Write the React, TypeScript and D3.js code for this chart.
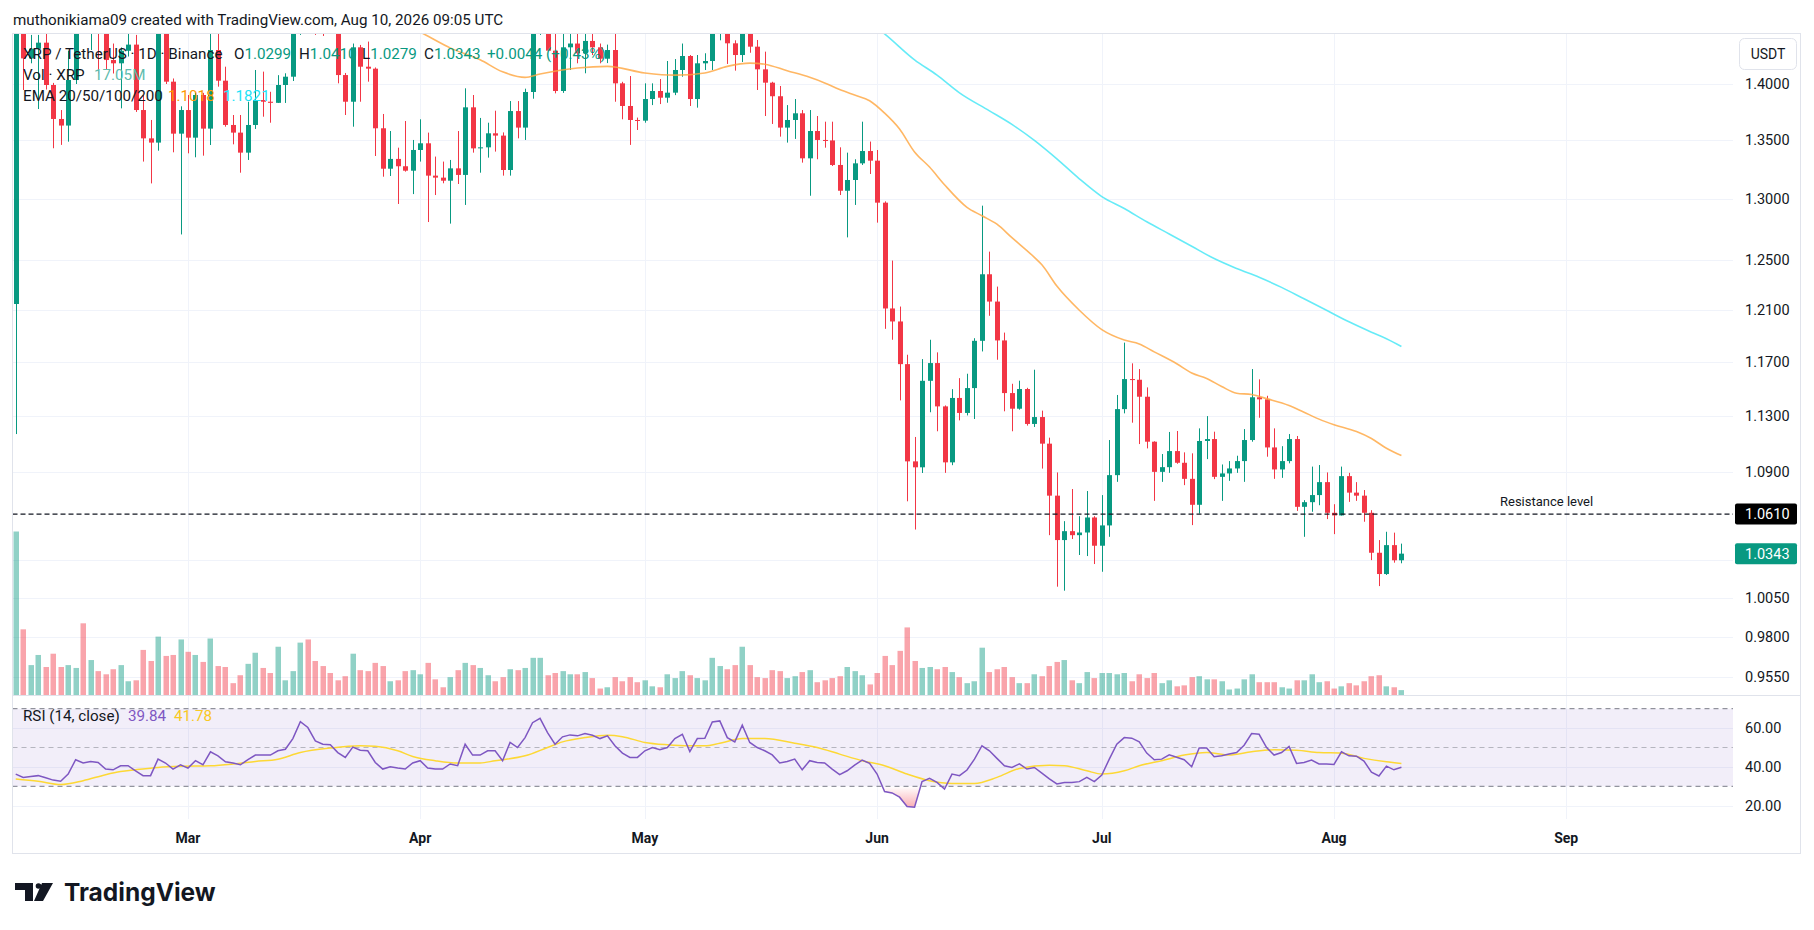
import React, { useEffect, useMemo } from 'react'
import * as d3 from 'd3'

const FIRST_DAY = '2026-02-06'

const open = [
  1.2149,1.4700,1.4233,1.4322,1.4378,1.3991,1.3688,1.3630,1.4036,1.4550,
  1.4500,1.4580,1.4470,1.4218,1.4188,1.4303,1.4360,1.3767,1.3518,1.3481,
  1.4490,1.4021,1.3559,1.3767,1.3524,1.3901,1.3603,1.4310,1.4030,1.3635,
  1.3568,1.3394,1.3635,1.3856,1.3841,1.3831,1.3991,1.4066,1.4490,1.4650,
  1.4620,1.4560,1.4520,1.4500,1.4081,1.3841,1.4335,1.4157,1.4139,1.3606,
  1.3256,1.3340,1.3277,1.3239,1.3417,1.3475,1.3197,1.3180,1.3154,1.3259,
  1.3203,1.3791,1.3431,1.3440,1.3562,1.3542,1.3245,1.3758,1.3612,1.3928,
  1.4480,1.4600,1.4304,1.3937,1.4335,1.4370,1.4280,1.4394,1.4335,1.4230,
  1.4310,1.4006,1.3803,1.3679,1.3673,1.3865,1.3937,1.3877,1.3922,1.4127,
  1.4255,1.3865,1.4188,1.4209,1.4459,1.4600,1.4372,1.4264,1.4460,1.4341,
  1.4133,1.4012,1.3890,1.3612,1.3679,1.3738,1.3345,1.3582,1.3504,1.3500,
  1.3288,1.3069,1.3160,1.3302,1.3408,1.3325,1.2969,1.2114,1.2013,1.1687,
  1.0977,1.0935,1.1562,1.1695,1.1373,1.0970,1.1435,1.1325,1.1508,1.1864,
  1.2384,1.2168,1.1867,1.1471,1.1356,1.1501,1.1245,1.1295,1.1103,1.0737,
  1.0434,1.0494,1.0467,1.0485,1.0587,1.0396,1.0533,1.0880,1.1353,1.1575,
  1.1570,1.1444,1.1117,1.0903,1.0936,1.1050,1.0967,1.0854,1.0674,1.1122,
  1.1136,1.0868,1.0892,1.0927,1.0979,1.1129,1.1440,1.1425,1.1076,1.0920,
  1.0979,1.1136,1.0660,1.0692,1.0741,1.0831,1.0619,1.0601,1.0873,1.0758,
  1.0737,1.0619,1.0349,1.0208,1.0400,1.0299,
]

const high = [
  1.5000,1.4850,1.4450,1.4450,1.4496,1.4010,1.3767,1.4304,1.4700,1.4700,
  1.4700,1.4700,1.4550,1.4370,1.4334,1.4490,1.4450,1.3900,1.3679,1.4600,
  1.4600,1.4050,1.3800,1.3901,1.3920,1.3920,1.4459,1.4496,1.4157,1.3723,
  1.3723,1.3841,1.4127,1.4112,1.3930,1.4080,1.4097,1.4600,1.4750,1.4750,
  1.4700,1.4650,1.4600,1.4600,1.4100,1.4370,1.4357,1.4388,1.4150,1.3732,
  1.3582,1.3437,1.3670,1.3504,1.3685,1.3568,1.3360,1.3317,1.3331,1.3582,
  1.3961,1.3901,1.3697,1.3655,1.3761,1.3570,1.3847,1.3847,1.3958,1.4600,
  1.4700,1.4700,1.4500,1.4459,1.4459,1.4459,1.4460,1.4460,1.4370,1.4360,
  1.4459,1.4020,1.4072,1.3700,1.4006,1.4006,1.4045,1.4209,1.4227,1.4370,
  1.4264,1.4264,1.4280,1.4550,1.4700,1.4700,1.4400,1.4600,1.4550,1.4403,
  1.4295,1.4020,1.3982,1.3811,1.3865,1.3767,1.3767,1.3714,1.3664,1.3664,
  1.3440,1.3394,1.3337,1.3664,1.3490,1.3417,1.2980,1.2494,1.2129,1.1758,
  1.1151,1.1725,1.1872,1.1776,1.1380,1.1500,1.1582,1.1615,1.1884,1.2944,
  1.2566,1.2286,1.1927,1.1540,1.1563,1.1510,1.1645,1.1342,1.1146,1.0899,
  1.0562,1.0783,1.0596,1.0769,1.0596,1.0741,1.1129,1.1457,1.1850,1.1693,
  1.1650,1.1513,1.1120,1.1029,1.1187,1.1194,1.1041,1.1034,1.1213,1.1302,
  1.1189,1.0955,1.0979,1.1017,1.1208,1.1650,1.1573,1.1451,1.1213,1.1085,
  1.1172,1.1158,1.0706,1.0940,1.0951,1.0899,1.0678,1.0940,1.0896,1.0831,
  1.0776,1.0637,1.0434,1.0490,1.0484,1.0410,
]

const low = [
  1.1172,1.3946,1.4188,1.3776,1.3950,1.3432,1.3461,1.3489,1.4000,1.4470,
  1.4310,1.4095,1.4127,1.4095,1.3782,1.4250,1.3750,1.3317,1.3131,1.3411,
  1.4000,1.3397,1.2706,1.3388,1.3354,1.3368,1.3460,1.3976,1.3620,1.3466,
  1.3222,1.3331,1.3600,1.3708,1.3655,1.3830,1.3830,1.4027,1.4450,1.4480,
  1.4450,1.4440,1.4460,1.4006,1.3723,1.3620,1.3841,1.4021,1.3365,1.3188,
  1.3194,1.2958,1.3231,1.3041,1.3317,1.2808,1.3033,1.3132,1.2795,1.3126,
  1.2950,1.3394,1.3222,1.3351,1.3403,1.3197,1.3197,1.3518,1.3504,1.3868,
  1.4450,1.4300,1.3916,1.3920,1.4127,1.4188,1.4097,1.4264,1.4188,1.4190,
  1.3841,1.3685,1.3461,1.3591,1.3655,1.3811,1.3820,1.3832,1.3900,1.4066,
  1.3803,1.3788,1.4127,1.4127,1.4400,1.4182,1.4121,1.4200,1.4285,1.3946,
  1.3714,1.3644,1.3533,1.3481,1.3513,1.3308,1.3027,1.3337,1.3437,1.3279,
  1.3033,1.2682,1.2950,1.3288,1.3211,1.2803,1.1956,1.1872,1.1417,1.0698,
  1.0505,1.0895,1.1330,1.1192,1.0896,1.0950,1.1271,1.1307,1.1281,1.1783,
  1.2057,1.1720,1.1337,1.1192,1.1349,1.1233,1.1223,1.0926,1.0467,1.0125,
  1.0099,1.0441,1.0334,1.0327,1.0274,1.0223,1.0456,1.0833,1.1322,1.1254,
  1.1100,1.1069,1.0701,1.0833,1.0896,1.0960,1.0810,1.0535,1.0614,1.0993,
  1.0852,1.0701,1.0840,1.0896,1.0833,1.1117,1.1290,1.1010,1.0854,1.0861,
  1.0963,1.0632,1.0456,1.0626,1.0671,1.0576,1.0474,1.0600,1.0694,1.0701,
  1.0558,1.0300,1.0129,1.0202,1.0283,1.0279,
]

const close = [
  1.4700,1.4233,1.4322,1.4378,1.3991,1.3688,1.3630,1.4036,1.4550,1.4500,
  1.4580,1.4470,1.4218,1.4188,1.4303,1.4360,1.3767,1.3518,1.3481,1.4490,
  1.4021,1.3559,1.3767,1.3524,1.3901,1.3603,1.4310,1.4030,1.3635,1.3568,
  1.3394,1.3635,1.3856,1.3841,1.3831,1.3991,1.4066,1.4490,1.4650,1.4620,
  1.4560,1.4520,1.4500,1.4081,1.3841,1.4335,1.4157,1.4139,1.3606,1.3256,
  1.3340,1.3277,1.3239,1.3417,1.3475,1.3197,1.3180,1.3154,1.3259,1.3203,
  1.3791,1.3431,1.3440,1.3562,1.3542,1.3245,1.3758,1.3612,1.3928,1.4480,
  1.4600,1.4304,1.3937,1.4335,1.4370,1.4280,1.4394,1.4335,1.4230,1.4310,
  1.4006,1.3803,1.3679,1.3673,1.3865,1.3937,1.3877,1.3922,1.4127,1.4255,
  1.3865,1.4188,1.4209,1.4459,1.4600,1.4372,1.4264,1.4460,1.4341,1.4133,
  1.4012,1.3890,1.3612,1.3679,1.3738,1.3345,1.3582,1.3504,1.3500,1.3288,
  1.3069,1.3160,1.3302,1.3408,1.3325,1.2969,1.2114,1.2013,1.1687,1.0977,
  1.0935,1.1562,1.1695,1.1373,1.0970,1.1435,1.1325,1.1508,1.1864,1.2384,
  1.2168,1.1867,1.1471,1.1356,1.1501,1.1245,1.1295,1.1103,1.0737,1.0434,
  1.0494,1.0467,1.0485,1.0587,1.0396,1.0533,1.0880,1.1353,1.1575,1.1570,
  1.1444,1.1117,1.0903,1.0936,1.1050,1.0967,1.0854,1.0674,1.1122,1.1136,
  1.0868,1.0892,1.0927,1.0979,1.1129,1.1440,1.1425,1.1076,1.0920,1.0979,
  1.1136,1.0660,1.0692,1.0741,1.0831,1.0619,1.0601,1.0873,1.0758,1.0737,
  1.0619,1.0349,1.0208,1.0400,1.0299,1.0343,
]

// volume, millions of XRP
const volume = [
  518,209,96,128,90,132,90,96,87,228,
  112,77,67,83,96,45,48,144,109,186,
  125,128,177,138,128,106,180,93,90,39,
  64,100,135,87,71,154,48,77,167,177,
  109,93,71,48,61,132,80,77,103,93,
  45,48,77,80,67,103,51,26,58,80,
  103,96,87,64,45,58,83,80,87,119,
  119,64,71,77,67,67,74,55,22,26,
  58,45,58,42,48,29,26,67,55,77,
  64,55,48,119,93,83,96,154,96,58,
  55,80,77,55,61,74,80,42,48,55,
  61,90,77,64,35,71,125,96,141,215,
  109,87,90,83,90,74,58,39,45,151,
  74,83,90,58,39,39,67,61,93,106,
  112,48,39,74,55,71,71,67,71,45,
  67,55,71,39,48,29,32,58,61,51,
  51,45,19,22,51,67,42,42,42,26,
  22,48,48,67,42,45,22,29,39,32,
  45,61,64,29,26,17.05,
]

const rsi = [
  36.3,34.6,35.1,35.5,34.4,33.2,32.6,36.3,43.7,42.0,
  42.8,42.3,38.9,38.5,40.6,40.6,38.0,35.5,35.5,44.0,
  42.0,38.9,41.1,39.4,43.2,41.1,47.8,45.7,42.6,42.0,
  41.1,43.7,46.1,46.1,46.1,48.3,49.1,54.6,63.3,60.3,
  53.4,51.7,51.4,47.4,44.9,50.2,48.6,48.3,42.3,38.9,
  40.1,39.4,38.9,42.0,43.2,39.4,38.9,38.9,41.5,40.6,
  51.7,46.1,46.1,48.3,48.3,43.2,52.6,50.0,55.1,62.8,
  65.0,57.7,51.7,55.5,56.5,56.0,57.2,56.3,54.6,56.0,
  50.9,47.1,44.9,44.9,48.3,50.0,48.8,50.0,54.6,56.8,
  47.9,54.6,54.7,63.2,63.7,55.1,52.9,61.5,52.6,50.0,
  48.3,46.2,42.0,42.8,44.0,38.5,43.2,42.3,42.0,38.9,
  36.0,38.0,40.9,43.5,41.8,36.3,27.3,26.6,24.4,19.6,
  19.2,32.4,34.1,32.0,28.6,36.3,35.5,38.4,44.0,50.9,
  48.3,44.4,40.6,39.7,41.6,38.9,39.7,36.8,33.8,31.2,
  32.0,32.0,32.4,34.6,32.4,35.8,44.0,51.7,55.1,54.8,
  52.9,47.1,43.7,44.0,46.2,45.0,43.7,40.1,49.7,49.7,
  45.2,45.7,46.6,47.4,51.2,57.2,56.8,50.0,46.1,47.4,
  50.5,41.8,42.3,43.5,41.5,41.5,41.3,47.8,45.7,45.5,
  43.0,37.3,35.3,40.4,38.5,39.84,
]

// [day index, value] samples of the smooth lines
const ema50: [number, number][] = [
  [48,1.470],[52,1.455],[55,1.444],[58,1.433],[62,1.422],[65,1.411],[68,1.406],[70,1.409],
  [75,1.4145],[79,1.416],[84,1.410],[88,1.408],[92,1.410],[95,1.416],[98,1.419],[100,1.418],
  [103,1.412],[106,1.406],[108,1.401],[110,1.395],[112,1.390],[114,1.385],[116,1.374],[118,1.360],
  [120,1.340],[122,1.327],[124,1.312],[127,1.293],[129,1.286],[131,1.279],[133,1.268],[136,1.252],
  [137,1.246],[139,1.229],[142,1.210],[145,1.195],[148,1.187],[150,1.184],[152,1.178],[155,1.169],
  [157,1.162],[159,1.158],[161,1.152],[163,1.147],[165,1.146],[167,1.143],[170,1.138],[172,1.133],
  [174,1.128],[176,1.124],[179,1.119],[181,1.114],[183,1.107],[185,1.1018],
]
const ema100: [number, number][] = [
  [110,1.480],[113,1.462],[116,1.446],[120,1.422],[123,1.408],[126,1.392],[130,1.376],[133,1.364],
  [136,1.350],[139,1.334],[142,1.317],[145,1.302],[148,1.292],[151,1.281],[154,1.271],[157,1.261],
  [160,1.251],[163,1.243],[166,1.236],[169,1.228],[172,1.219],[175,1.210],[178,1.201],[181,1.193],
  [183,1.188],[185,1.1821],
]
const rsiMa: [number, number][] = [
  [0,33.8],[3,32.6],[6,30.9],[9,32.9],[12,36.0],[14,37.6],[16,38.5],[19,39.7],[22,40.3],[26,40.6],
  [29,41.5],[32,42.8],[35,44.0],[38,47.4],[42,49.7],[46,50.9],[48,50.6],[51,48.3],[53,45.4],
  [56,43.2],[59,42.0],[62,42.0],[64,43.2],[68,45.7],[71,50.0],[73,52.9],[76,55.1],[79,56.3],
  [81,55.6],[84,52.6],[87,51.4],[90,50.9],[92,50.9],[94,52.2],[97,54.6],[100,54.6],[104,52.2],
  [107,50.0],[110,46.6],[113,43.2],[116,40.6],[119,36.3],[122,32.9],[125,31.5],[128,31.5],
  [131,34.6],[134,39.2],[138,40.9],[140,40.6],[143,38.0],[145,36.3],[148,38.0],[150,40.6],
  [153,43.2],[156,46.1],[159,47.4],[162,46.1],[165,47.8],[168,48.8],[171,48.6],[174,47.4],
  [177,47.1],[180,44.4],[183,42.6],[185,41.78],
]

// 1.0300 sits under the last-price tag, so it only gets a grid line
const priceTicks = [1.4, 1.35, 1.3, 1.25, 1.21, 1.17, 1.13, 1.09, 1.03, 1.005, 0.98, 0.955]
const hiddenTicks = [1.03]
const rsiTicks = [60, 40, 20]
const monthStarts = ['2026-03-01','2026-04-01','2026-05-01','2026-06-01','2026-07-01','2026-08-01','2026-09-01']
const monthLabels = ['Mar','Apr','May','Jun','Jul','Aug','Sep']
const RESISTANCE = 1.061

const W = 1814
const H = 930
const LEFT = 12.5
const PLOT_RIGHT = 1733
const FRAME_RIGHT = 1800.5
const TOP = 33.5
const MAIN_BOTTOM = 695.5
const RSI_BOTTOM = 819
const FRAME_BOTTOM = 853.5

const UP = '#089981'
const DOWN = '#f23645'
const INK = '#131722'
const GRID = '#f0f3fa'
const BORDER = '#e0e3eb'
const FONT = "Roboto, 'Noto Sans', sans-serif"

const utc = (s: string) => new Date(s + 'T00:00:00Z')

const App: React.FC = () => {
  useEffect(() => {
    document.body.style.margin = '0'
  }, [])

  const dates = useMemo(() => {
    const start = utc(FIRST_DAY)
    return close.map((_, i) => d3.utcDay.offset(start, i))
  }, [])

  const x = d3.scaleUtc().domain([utc('2026-03-01'), utc('2026-08-01')]).range([188, 1334])
  const y = d3.scaleLog().domain([0.955, 1.4]).range([677.4, 84])
  const yVol = d3.scaleLinear().domain([0, 518]).range([MAIN_BOTTOM, MAIN_BOTTOM - 164])
  const yRsi = d3.scaleLinear().domain([30, 70]).range([786.3, 708.7])

  const cx = (i: number) => Math.round(x(dates[i])) + 0.5

  const priceLine = d3.line<[number, number]>()
    .x(p => x(dates[p[0]]))
    .y(p => y(p[1]))
    .curve(d3.curveMonotoneX)

  const rsiLine = d3.line<number>()
    .x((_, i) => x(dates[i]))
    .y(v => yRsi(v))

  const rsiMaLine = d3.line<[number, number]>()
    .x(p => x(dates[p[0]]))
    .y(p => yRsi(p[1]))
    .curve(d3.curveMonotoneX)

  const oversold = d3.area<number>()
    .x((_, i) => x(dates[i]))
    .y0(yRsi(30))
    .y1(v => yRsi(v))

  const last = close.length - 1
  const lastUp = close[last] >= open[last]

  // TradingView logo mark
  const logoMark = 'M15,883 H33 V901 H25 V890 H15 Z M42,883 H53 L43,901 H34 Z'

  return (
    <svg
      width={W}
      height={H}
      viewBox={`0 0 ${W} ${H}`}
      style={{ position: 'absolute', left: 0, top: 0, display: 'block', background: '#fff' }}
      fontFamily={FONT}
    >
      <defs>
        <clipPath id="main-clip">
          <rect x={LEFT} y={TOP} width={PLOT_RIGHT - LEFT} height={MAIN_BOTTOM - TOP} />
        </clipPath>
        <clipPath id="rsi-clip">
          <rect x={LEFT} y={MAIN_BOTTOM} width={PLOT_RIGHT - LEFT} height={RSI_BOTTOM - MAIN_BOTTOM} />
        </clipPath>
        <clipPath id="oversold-clip">
          <rect x={LEFT} y={yRsi(30)} width={PLOT_RIGHT - LEFT} height={RSI_BOTTOM - yRsi(30)} />
        </clipPath>
        <linearGradient id="oversold-grad" gradientUnits="userSpaceOnUse" x1={0} x2={0} y1={yRsi(30)} y2={yRsi(18)}>
          <stop offset="0%" stopColor={DOWN} stopOpacity={0} />
          <stop offset="100%" stopColor={DOWN} stopOpacity={0.45} />
        </linearGradient>
      </defs>

      <rect x={0} y={0} width={W} height={H} fill="#fff" />

      {/* grid */}
      {priceTicks.map(t => (
        <line key={t} x1={LEFT} x2={PLOT_RIGHT} y1={Math.round(y(t)) + 0.5} y2={Math.round(y(t)) + 0.5} stroke={GRID} />
      ))}
      {rsiTicks.map(t => (
        <line key={t} x1={LEFT} x2={PLOT_RIGHT} y1={Math.round(yRsi(t)) + 0.5} y2={Math.round(yRsi(t)) + 0.5} stroke={GRID} />
      ))}
      {monthStarts.map(m => (
        <line key={m} x1={Math.round(x(utc(m))) + 0.5} x2={Math.round(x(utc(m))) + 0.5} y1={TOP} y2={RSI_BOTTOM} stroke={GRID} />
      ))}

      {/* RSI band */}
      <rect x={LEFT} y={yRsi(70)} width={PLOT_RIGHT - LEFT} height={yRsi(30) - yRsi(70)} fill="#7e57c2" fillOpacity={0.1} />
      <line x1={LEFT} x2={PLOT_RIGHT} y1={yRsi(70)} y2={yRsi(70)} stroke="#787b86" strokeDasharray="5 4" />
      <line x1={LEFT} x2={PLOT_RIGHT} y1={yRsi(50)} y2={yRsi(50)} stroke="#787b86" strokeOpacity={0.5} strokeDasharray="5 4" />
      <line x1={LEFT} x2={PLOT_RIGHT} y1={yRsi(30)} y2={yRsi(30)} stroke="#787b86" strokeDasharray="5 4" />

      {/* volume + candles */}
      <g clipPath="url(#main-clip)">
        {volume.map((v, i) => (
          <rect
            key={i}
            x={cx(i) - 3}
            y={yVol(v)}
            width={5.5}
            height={MAIN_BOTTOM - yVol(v)}
            fill={close[i] >= open[i] ? UP : DOWN}
            fillOpacity={0.45}
          />
        ))}
        {close.map((c, i) => {
          const up = c >= open[i]
          const col = up ? UP : DOWN
          const yo = y(open[i])
          const yc = y(c)
          return (
            <g key={i}>
              <line x1={cx(i)} x2={cx(i)} y1={y(high[i])} y2={y(low[i])} stroke={col} />
              <rect x={cx(i) - 2.5} y={Math.min(yo, yc)} width={5} height={Math.max(1, Math.abs(yo - yc))} fill={col} />
            </g>
          )
        })}
        <path d={priceLine(ema50) ?? ''} fill="none" stroke="#ffa53d" strokeOpacity={0.8} strokeWidth={1.6} />
        <path d={priceLine(ema100) ?? ''} fill="none" stroke="#40e6f5" strokeOpacity={0.8} strokeWidth={1.6} />
        <line x1={LEFT} x2={PLOT_RIGHT} y1={y(RESISTANCE)} y2={y(RESISTANCE)} stroke={INK} strokeWidth={1.3} strokeDasharray="5 3" />
      </g>
      <text x={1500} y={y(RESISTANCE) - 8} fontSize={13} fill={INK}>Resistance level</text>

      {/* RSI */}
      <g clipPath="url(#rsi-clip)">
        <path d={oversold(rsi) ?? ''} fill="url(#oversold-grad)" clipPath="url(#oversold-clip)" />
        <path d={rsiMaLine(rsiMa) ?? ''} fill="none" stroke="#fdd835" strokeWidth={1.5} />
        <path d={rsiLine(rsi) ?? ''} fill="none" stroke="#7e57c2" strokeWidth={1.5} />
      </g>

      {/* frame */}
      <rect x={LEFT} y={TOP} width={FRAME_RIGHT - LEFT} height={FRAME_BOTTOM - TOP} fill="none" stroke={BORDER} />
      <line x1={LEFT} x2={FRAME_RIGHT} y1={MAIN_BOTTOM} y2={MAIN_BOTTOM} stroke={BORDER} />

      {/* price scale */}
      {priceTicks.filter(t => !hiddenTicks.includes(t)).map(t => (
        <text key={t} x={1745} y={y(t) + 5} fontSize={14.5} fill={INK}>{t.toFixed(4)}</text>
      ))}
      {rsiTicks.map(t => (
        <text key={t} x={1745} y={yRsi(t) + 5} fontSize={14.5} fill={INK}>{t.toFixed(2)}</text>
      ))}
      <rect x={1739.5} y={38.5} width={57} height={31} rx={5} fill="#fff" stroke={BORDER} />
      <text x={1768} y={59} fontSize={14} fill={INK} textAnchor="middle">USDT</text>

      <rect x={1735} y={y(RESISTANCE) - 10.5} width={62} height={21} rx={2} fill="#000" />
      <text x={1745} y={y(RESISTANCE) + 5} fontSize={14.5} fill="#fff">{RESISTANCE.toFixed(4)}</text>
      <rect x={1735} y={y(close[last]) - 10.5} width={62} height={21} rx={2} fill={lastUp ? UP : DOWN} />
      <text x={1745} y={y(close[last]) + 5} fontSize={14.5} fill="#fff">{close[last].toFixed(4)}</text>

      {/* time scale */}
      {monthStarts.map((m, i) => (
        <text key={m} x={x(utc(m))} y={843} fontSize={14} fontWeight={700} fill={INK} textAnchor="middle">
          {monthLabels[i]}
        </text>
      ))}

      {/* header + legends */}
      <text x={13} y={25} fontSize={15.2} fill={INK}>
        muthonikiama09 created with TradingView.com, Aug 10, 2026 09:05 UTC
      </text>
      <g fontSize={15.2} fill={INK}>
        <text x={23} y={59}>XRP / TetherUS · 1D · Binance</text>
        <text y={59}>
          <tspan x={234}>O</tspan><tspan fill={UP}>{open[last].toFixed(4)}</tspan>
          <tspan x={299}>H</tspan><tspan fill={UP}>{high[last].toFixed(4)}</tspan>
          <tspan x={362}>L</tspan><tspan fill={UP}>{low[last].toFixed(4)}</tspan>
          <tspan x={424}>C</tspan><tspan fill={UP}>{close[last].toFixed(4)}</tspan>
          <tspan x={487} fill={UP}>+0.0044 (+0.43%)</tspan>
        </text>
        <text x={23} y={80}>Vol · XRP</text>
        <text x={94} y={80} fill="#5fbcae">{volume[last].toFixed(2)}M</text>
        <text x={23} y={100.5}>EMA 20/50/100/200</text>
        <text x={168} y={100.5} fill="#ff9800">{ema50[ema50.length - 1][1].toFixed(4)}</text>
        <text x={223} y={100.5} fill="#1ee3f7">{ema100[ema100.length - 1][1].toFixed(4)}</text>
        <text x={23} y={720.5}>RSI (14, close)</text>
        <text x={128} y={720.5} fill="#7e57c2">{rsi[last].toFixed(2)}</text>
        <text x={174} y={720.5} fill="#f9c823">{rsiMa[rsiMa.length - 1][1].toFixed(2)}</text>
      </g>

      {/* logo */}
      <path d={logoMark} fill={INK} />
      <circle cx={38.5} cy={886} r={2.8} fill={INK} />
      <text x={64} y={901} fontSize={24.5} fontWeight={700} fontFamily="Inter, Roboto, sans-serif" fill={INK}>
        TradingView
      </text>
    </svg>
  )
}

export default App
